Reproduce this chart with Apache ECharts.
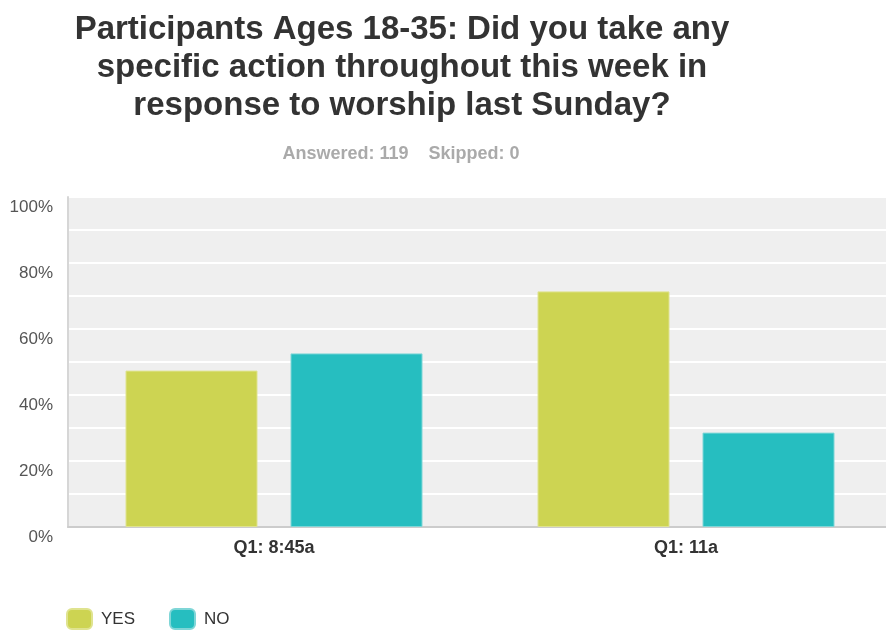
<!DOCTYPE html>
<html>
<head>
<meta charset="utf-8">
<script src="https://cdn.jsdelivr.net/npm/echarts@6/dist/echarts.min.js"></script>
<style>
  html, body { margin: 0; padding: 0; background: #ffffff; }
  #chart { width: 886px; height: 630px; }
</style>
</head>
<body>
<div id="chart"></div>
<script>
// Survey responses, percent of respondents per service time
const categories = ['Q1: 8:45a', 'Q1: 11a'];
const yesValues = [47.4, 71.4];
const noValues = [52.6, 28.6];
const seriesNames = ['YES', 'NO'];
const titleText = 'Participants Ages 18-35: Did you take any\nspecific action throughout this week in\nresponse to worship last Sunday?';
const subtitleText = 'Answered: 119    Skipped: 0';

const FONT = '"Liberation Sans", Arial, Helvetica, sans-serif';

const chart = echarts.init(document.getElementById('chart'), null, { renderer: 'canvas' });

chart.setOption({
  backgroundColor: '#ffffff',
  animation: false,
  title: [
    {
      text: titleText,
      left: 402,
      textAlign: 'center',
      top: 11,
      padding: 0,
      textStyle: {
        fontFamily: FONT,
        fontSize: 33,
        fontWeight: 'bold',
        color: '#333333',
        lineHeight: 38
      }
    },
    {
      text: subtitleText,
      left: 401,
      textAlign: 'center',
      top: 144,
      padding: 0,
      textStyle: {
        fontFamily: FONT,
        fontSize: 18,
        fontWeight: 'bold',
        color: '#aaaaaa',
        lineHeight: 20
      }
    }
  ],
  legend: {
    data: seriesNames,
    left: 66,
    top: 608,
    padding: 0,
    icon: 'roundRect',
    itemWidth: 25,
    itemHeight: 20,
    itemGap: 34,
    textStyle: {
      fontFamily: FONT,
      fontSize: 17,
      color: '#333333',
      padding: [0, 0, 0, 4]
    }
  },
  grid: {
    left: 68,
    top: 197,
    width: 824,
    height: 330,
    show: true,
    backgroundColor: '#efefef',
    borderWidth: 0,
    containLabel: false,
    outerBoundsMode: 'none'
  },
  xAxis: {
    type: 'category',
    data: categories,
    axisTick: { show: false },
    axisLine: { show: true, lineStyle: { color: '#cccccc', width: 2 } },
    axisLabel: {
      fontFamily: FONT,
      fontSize: 18,
      fontWeight: 'bold',
      color: '#333333',
      margin: 12
    }
  },
  yAxis: {
    type: 'value',
    min: 0,
    max: 100,
    interval: 10,
    axisLine: { show: true, lineStyle: { color: '#d6d6d6', width: 2 } },
    axisTick: { show: false },
    splitLine: { show: true, lineStyle: { color: '#ffffff', width: 2 } },
    axisLabel: {
      fontFamily: FONT,
      fontSize: 17,
      color: '#555555',
      margin: 15,
      verticalAlign: 'top',
      padding: [2, 0, 0, 0],
      formatter: function (v) { return v % 20 === 0 ? v + '%' : ''; }
    }
  },
  series: [
    {
      name: seriesNames[0],
      type: 'bar',
      data: yesValues,
      barWidth: 132,
      barGap: '25%',
      itemStyle: { color: '#cdd452', borderColor: '#dfe38f', borderWidth: 1 }
    },
    {
      name: seriesNames[1],
      type: 'bar',
      data: noValues,
      barWidth: 132,
      itemStyle: { color: '#26bec0', borderColor: '#7fd6d7', borderWidth: 1 }
    }
  ]
});
</script>
</body>
</html>
